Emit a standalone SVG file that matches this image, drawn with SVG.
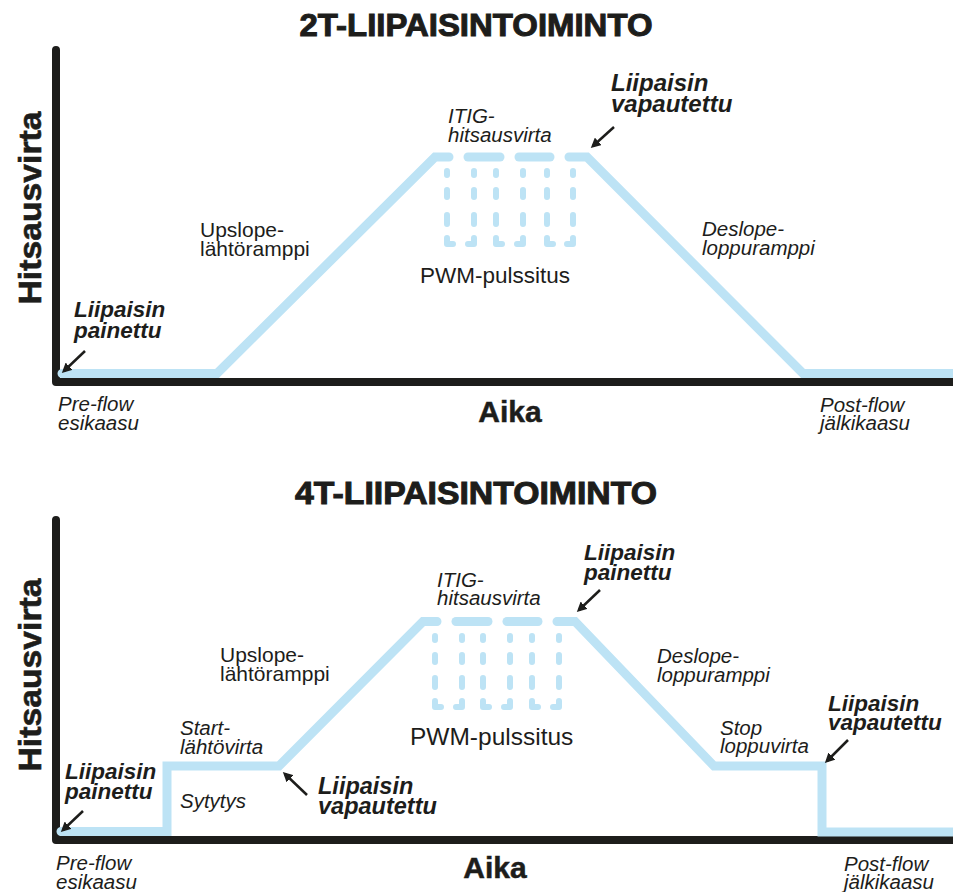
<svg xmlns="http://www.w3.org/2000/svg" width="953" height="892" viewBox="0 0 953 892">
<defs>
<style>
.bg{fill:#ffffff}
.axis{fill:none;stroke:#1d1d1b;stroke-width:8;stroke-linecap:round;stroke-linejoin:round}
.curve{fill:none;stroke:#bde3f5;stroke-width:9;stroke-linejoin:miter;stroke-linecap:round}
.pulse{fill:none;stroke:#bde3f5;stroke-width:6;stroke-linecap:round;stroke-linejoin:round}
.arrow{fill:none;stroke:#1d1d1b;stroke-width:2.5;marker-end:url(#ah)}
text{font-family:"Liberation Sans",Arial,sans-serif;fill:#1d1d1b}
.title{font-size:31px;font-weight:bold;stroke:#1d1d1b;stroke-width:1;text-anchor:middle}
.ylab{font-size:32px;font-weight:bold;stroke:#1d1d1b;stroke-width:0.6;text-anchor:middle}
.xlab{font-size:30px;font-weight:bold;stroke:#1d1d1b;stroke-width:0.5;text-anchor:middle}
.lbl{font-size:21px}
.ital{font-size:20.5px;font-style:italic}
.trig{font-size:22.5px;font-style:italic;font-weight:bold}
.pwm{font-size:22.5px}
</style>
<marker id="ah" viewBox="0 0 10 10" refX="7" refY="5" markerWidth="10" markerHeight="10" markerUnits="userSpaceOnUse" orient="auto">
<path d="M0,0 L10,5 L0,10 Z" fill="#1d1d1b"/>
</marker>
</defs>
<rect class="bg" x="0" y="0" width="953" height="892"/>

<g id="chart-2t">
<text id="title-2t" class="title" x="476" y="36" textLength="353" lengthAdjust="spacingAndGlyphs">2T-LIIPAISINTOIMINTO</text>
<g id="axes-2t">
<path class="axis" d="M56,50 V382 H960"/>
<text class="ylab" transform="translate(41,208) rotate(-90)" textLength="193" lengthAdjust="spacingAndGlyphs">Hitsausvirta</text>
<text class="xlab" x="510" y="422">Aika</text>
</g>
<g id="current-2t">
<path class="curve" d="M62,373.5 H217 L435,157 H449"/>
<line class="curve" x1="468" y1="157" x2="500" y2="157"/>
<line class="curve" x1="519" y1="157" x2="550" y2="157"/>
<path class="curve" d="M569,157 H587 L803,373.5 H960"/>
</g>
<g id="pwm-2t">
<path class="pulse" d="M447,171 V175 M447,190 V197 M447,215 V224 M447,238 V244 H453"/>
<path class="pulse" d="M474,171 V175 M474,190 V197 M474,215 V224 M474,238 V244 H468"/>
<path class="pulse" d="M496,171 V175 M496,190 V197 M496,215 V224 M496,238 V244 H502"/>
<path class="pulse" d="M523,171 V175 M523,190 V197 M523,215 V224 M523,238 V244 H517"/>
<path class="pulse" d="M547,171 V175 M547,190 V197 M547,215 V224 M547,238 V244 H553"/>
<path class="pulse" d="M573,171 V175 M573,190 V197 M573,215 V224 M573,238 V244 H567"/>
<text class="pwm" x="420" y="283">PWM-pulssitus</text>
</g>
<g id="labels-2t">
<text class="trig" x="74" y="317">Liipaisin<tspan x="74" dy="21">painettu</tspan></text>
<text class="ital" x="58" y="411">Pre-flow<tspan x="58" dy="19">esikaasu</tspan></text>
<text class="lbl" x="200" y="237">Upslope-<tspan x="200" dy="19">lähtöramppi</tspan></text>
<text class="ital" x="448" y="123">ITIG-<tspan x="448" dy="19">hitsausvirta</tspan></text>
<text class="trig" x="611" y="91" style="font-size:24px">Liipaisin<tspan x="611" dy="21">vapautettu</tspan></text>
<text class="ital" x="702" y="236">Deslope-<tspan x="702" dy="19">loppuramppi</tspan></text>
<text class="ital" x="820" y="412">Post-flow<tspan x="820" dy="18">jälkikaasu</tspan></text>
</g>
</g>

<g id="chart-4t">
<text id="title-4t" class="title" x="476" y="504" textLength="362" lengthAdjust="spacingAndGlyphs">4T-LIIPAISINTOIMINTO</text>
<g id="axes-4t">
<path class="axis" d="M56,520 V840 H960"/>
<text class="ylab" transform="translate(41,675) rotate(-90)" textLength="193" lengthAdjust="spacingAndGlyphs">Hitsausvirta</text>
<text class="xlab" x="495" y="878">Aika</text>
</g>
<g id="current-4t">
<path class="curve" d="M61,831.5 H167 V766 H279 L423,621.5 H437"/>
<line class="curve" x1="456" y1="621.5" x2="488" y2="621.5"/>
<line class="curve" x1="507" y1="621.5" x2="538" y2="621.5"/>
<path class="curve" d="M557,621.5 H575 L714,766 H822 V832 H960"/>
</g>
<g id="pwm-4t">
<path class="pulse" d="M435,636 V640 M435,655 V662 M435,678 V687 M435,701 V707 H441"/>
<path class="pulse" d="M462,636 V640 M462,655 V662 M462,678 V687 M462,701 V707 H456"/>
<path class="pulse" d="M483,636 V640 M483,655 V662 M483,678 V687 M483,701 V707 H489"/>
<path class="pulse" d="M510,636 V640 M510,655 V662 M510,678 V687 M510,701 V707 H504"/>
<path class="pulse" d="M532,636 V640 M532,655 V662 M532,678 V687 M532,701 V707 H538"/>
<path class="pulse" d="M559,636 V640 M559,655 V662 M559,678 V687 M559,701 V707 H553"/>
<text class="pwm" x="410" y="745" style="font-size:24.5px">PWM-pulssitus</text>
</g>
<g id="labels-4t">
<text class="trig" x="65" y="779">Liipaisin<tspan x="65" dy="20">painettu</tspan></text>
<text class="ital" x="180" y="808">Sytytys</text>
<text class="ital" x="180" y="735">Start-<tspan x="180" dy="19">lähtövirta</tspan></text>
<text class="trig" x="318" y="794" style="font-size:23.5px">Liipaisin<tspan x="318" dy="20">vapautettu</tspan></text>
<text class="lbl" x="220" y="662">Upslope-<tspan x="220" dy="19">lähtöramppi</tspan></text>
<text class="ital" x="437" y="587">ITIG-<tspan x="437" dy="18">hitsausvirta</tspan></text>
<text class="trig" x="584" y="560">Liipaisin<tspan x="584" dy="20">painettu</tspan></text>
<text class="ital" x="657" y="663">Deslope-<tspan x="657" dy="19">loppuramppi</tspan></text>
<text class="ital" x="720" y="735">Stop<tspan x="720" dy="18">loppuvirta</tspan></text>
<text class="trig" x="828" y="711">Liipaisin<tspan x="828" dy="19">vapautettu</tspan></text>
<text class="ital" x="56" y="870">Pre-flow<tspan x="56" dy="19">esikaasu</tspan></text>
<text class="ital" x="844" y="871">Post-flow<tspan x="844" dy="18">jälkikaasu</tspan></text>
</g>
</g>

<g id="connectors">
<line class="arrow" x1="85" y1="351" x2="64" y2="371"/>
<line class="arrow" x1="614" y1="127" x2="593" y2="146"/>
<line class="arrow" x1="83" y1="811" x2="63" y2="830"/>
<line class="arrow" x1="307" y1="795" x2="285" y2="774"/>
<line class="arrow" x1="600" y1="590" x2="579" y2="610"/>
<line class="arrow" x1="848" y1="740" x2="827" y2="761"/>
</g>
</svg>
